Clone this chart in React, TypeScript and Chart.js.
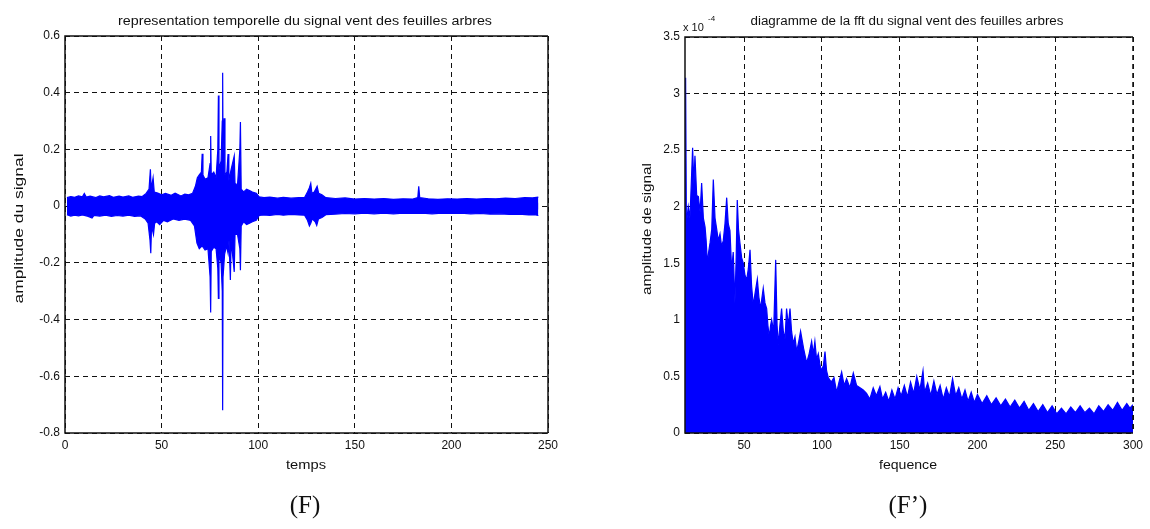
import React, { useEffect, useRef } from "react";
import { Chart, registerables } from "chart.js";

Chart.register(...registerables);

// ---------- Left chart (F): time signal envelope ----------
const timeTicks = [0, 50, 100, 150, 200, 250];
const ampTicks = [-0.8, -0.6, -0.4, -0.2, 0, 0.2, 0.4, 0.6];

const upperT = [1, 3, 5, 7, 9, 10, 11, 13, 16, 18, 20, 23, 25, 28, 30, 33, 35, 38, 40, 42, 43.5, 44.2, 44.6, 45.6, 46.2, 48, 50, 52, 55, 57, 60, 62, 64, 66, 67.5, 68.5, 69.5, 70.6, 71, 71.4, 72.5, 74, 75.1, 75.4, 75.7, 77, 78.2, 79.1, 79.4, 79.7, 80.8, 81.4, 81.6, 81.8, 82.4, 82.8, 83.8, 84.4, 84.8, 86, 87.6, 88, 89.3, 90.5, 90.8, 91.2, 92.5, 94, 95.5, 97, 99, 100.5, 103, 106, 110, 113, 117, 121, 124, 125.5, 126.5, 127.2, 127.8, 129, 130.5, 131.3, 133, 135, 140, 145, 150, 155, 160, 165, 170, 175, 180, 182.6, 183.1, 183.6, 188, 193, 198, 203, 208, 213, 218, 223, 228, 233, 238, 242, 245];
const upperV = [0.03, 0.034, 0.031, 0.036, 0.033, 0.045, 0.032, 0.035, 0.03, 0.036, 0.033, 0.037, 0.031, 0.035, 0.032, 0.036, 0.031, 0.035, 0.034, 0.045, 0.06, 0.13, 0.06, 0.1, 0.05, 0.046, 0.04, 0.045, 0.038, 0.046, 0.036, 0.042, 0.04, 0.045, 0.07, 0.1, 0.11, 0.12, 0.185, 0.11, 0.095, 0.1, 0.15, 0.247, 0.11, 0.12, 0.1, 0.2, 0.39, 0.13, 0.16, 0.3, 0.47, 0.2, 0.31, 0.11, 0.12, 0.184, 0.09, 0.13, 0.177, 0.08, 0.075, 0.2, 0.297, 0.06, 0.05, 0.06, 0.055, 0.05, 0.045, 0.033, 0.03, 0.032, 0.028, 0.031, 0.028, 0.03, 0.03, 0.05, 0.065, 0.08, 0.045, 0.05, 0.07, 0.045, 0.04, 0.03, 0.027, 0.029, 0.025, 0.027, 0.025, 0.027, 0.024, 0.026, 0.025, 0.03, 0.07, 0.03, 0.026, 0.024, 0.026, 0.025, 0.027, 0.025, 0.027, 0.026, 0.028, 0.027, 0.03, 0.029, 0.032];

const lowerT = [1, 3, 5, 7, 9, 12, 14, 15, 18, 21, 24, 27, 30, 33, 36, 39, 41.5, 43, 44, 44.4, 44.8, 45.8, 46.4, 47.5, 49, 51, 53, 56, 59, 62, 65, 67, 68.3, 69.5, 71, 72.5, 74, 75.1, 75.4, 75.7, 77, 78.2, 79.1, 79.4, 79.7, 80.8, 81.4, 81.6, 81.8, 82.6, 83.6, 84.4, 84.9, 85.6, 86, 87.6, 88, 89.3, 90.5, 90.8, 91.2, 92.5, 94, 95.5, 97, 99, 100.5, 103, 106, 110, 113, 117, 121, 124, 125.5, 126.5, 127.2, 128, 129.5, 130.3, 131.2, 133, 135, 140, 145, 150, 155, 160, 165, 170, 175, 180, 185, 190, 195, 200, 205, 210, 215, 220, 225, 230, 235, 240, 243, 245];
const lowerV = [-0.03, -0.035, -0.032, -0.034, -0.031, -0.036, -0.042, -0.033, -0.035, -0.032, -0.036, -0.033, -0.035, -0.032, -0.036, -0.034, -0.045, -0.06, -0.12, -0.166, -0.07, -0.1, -0.06, -0.055, -0.065, -0.05, -0.055, -0.045, -0.05, -0.046, -0.05, -0.07, -0.13, -0.15, -0.14, -0.155, -0.15, -0.25, -0.375, -0.16, -0.145, -0.15, -0.22, -0.325, -0.17, -0.2, -0.3, -0.72, -0.25, -0.17, -0.14, -0.166, -0.12, -0.26, -0.12, -0.232, -0.1, -0.1, -0.15, -0.226, -0.07, -0.055, -0.065, -0.06, -0.055, -0.05, -0.033, -0.031, -0.033, -0.029, -0.032, -0.029, -0.031, -0.032, -0.05, -0.07, -0.06, -0.045, -0.055, -0.068, -0.045, -0.04, -0.03, -0.028, -0.026, -0.027, -0.025, -0.027, -0.025, -0.027, -0.025, -0.026, -0.025, -0.027, -0.025, -0.026, -0.025, -0.027, -0.026, -0.028, -0.027, -0.029, -0.028, -0.031, -0.03, -0.033];

// ---------- Right chart (F'): FFT magnitude (x 10^-4) ----------
const freqTicks = [50, 100, 150, 200, 250, 300];
const fftTicks = [0, 0.5, 1, 1.5, 2, 2.5, 3, 3.5];

const freqF = [12.0, 12.4, 12.9, 14.1, 15.2, 16.9, 17.7, 18.4, 19.5, 20.6, 21.7, 22.7, 23.8, 24.9, 25.6, 26.4, 27.2, 28.1, 29.2, 30.2, 31.3, 32.4, 33.4, 34.5, 35.5, 36.6, 37.7, 38.8, 39.8, 40.9, 42.0, 43.0, 44.1, 44.9, 45.6, 46.4, 47.3, 48.4, 49.5, 50.5, 51.6, 52.7, 53.8, 54.8, 55.9, 57.2, 58.5, 59.5, 60.6, 61.5, 62.3, 63.4, 64.5, 65.3, 66.2, 67.0, 67.7, 69, 70.3, 71.2, 72.0, 73, 74.1, 75.2, 76.3, 77.3, 78.4, 79.5, 80.5, 81.6, 82.7, 83.8, 85, 86.3, 88.2, 90.2, 91.8, 93.4, 94.5, 95.5, 96.6, 97.7, 98.8, 99.8, 101, 102, 103, 104.1, 106, 107.8, 109.5, 111, 112.7, 114.3, 115.9, 118, 120.2, 122.3, 124.5, 126.6, 128.7, 130.8, 133, 135, 137.3, 139, 141, 143, 145, 147, 149, 151, 153, 155, 157, 159, 161, 163, 165, 166, 168, 170, 172, 174, 176, 178, 180, 182, 184, 186, 188, 190, 192, 194, 196, 198, 200, 203, 206, 209, 212, 215, 218, 221, 224, 227, 230, 233, 236, 239, 242, 245, 248, 251, 254, 257, 260, 263, 266, 269, 272, 275, 278, 281, 284, 287, 290, 293, 296, 298, 300];
const fftV = [1.82, 3.14, 1.85, 2.0, 1.9, 2.52, 2.2, 2.45, 2.1, 2.09, 1.95, 2.21, 1.9, 1.82, 1.7, 1.5, 1.6, 1.68, 1.8, 2.24, 1.9, 1.8, 1.7, 1.76, 1.65, 1.7, 1.85, 2.08, 1.85, 1.79, 1.44, 1.6, 1.15, 1.55, 2.06, 1.8, 1.68, 1.55, 1.5, 1.4, 1.35, 1.45, 1.62, 1.3, 1.13, 1.25, 1.36, 1.2, 1.1, 1.2, 1.28, 1.15, 1.1, 0.95, 0.85, 0.95, 1.0, 0.9, 1.53, 0.95, 0.78, 0.95, 1.1, 0.9, 0.83, 1.1, 0.95, 1.1, 0.9, 0.79, 0.85, 0.72, 0.8, 0.9, 0.75, 0.62, 0.7, 0.81, 0.7, 0.81, 0.65, 0.7, 0.6, 0.55, 0.6, 0.72, 0.55, 0.49, 0.45, 0.49, 0.36, 0.45, 0.54, 0.42, 0.48, 0.4, 0.53, 0.42, 0.4, 0.38, 0.35, 0.3, 0.4, 0.33, 0.41, 0.3, 0.36, 0.28, 0.38, 0.3, 0.4, 0.33, 0.42, 0.32, 0.45, 0.35, 0.5, 0.38, 0.55, 0.36, 0.44, 0.33, 0.46, 0.34, 0.42, 0.3, 0.4, 0.32, 0.48, 0.33, 0.4, 0.3, 0.38, 0.28, 0.36, 0.27, 0.34, 0.26, 0.33, 0.25, 0.31, 0.24, 0.3, 0.23, 0.29, 0.22, 0.28, 0.2, 0.26, 0.19, 0.25, 0.18, 0.24, 0.17, 0.22, 0.17, 0.23, 0.18, 0.24, 0.18, 0.22, 0.17, 0.24, 0.19, 0.25, 0.2, 0.27, 0.2, 0.26, 0.22, 0.25];

const BLUE = "#0000ff";
const FONT = "'Liberation Sans', Arial, sans-serif";

function drawText(
  ctx: CanvasRenderingContext2D,
  text: string,
  x: number,
  y: number,
  size: number,
  width?: number,
  rotate?: boolean
) {
  ctx.save();
  ctx.font = `${size}px ${FONT}`;
  ctx.translate(x, y);
  if (rotate) ctx.rotate(-Math.PI / 2);
  if (width) {
    const m = ctx.measureText(text).width;
    ctx.scale(width / m, 1);
  }
  ctx.textAlign = "center";
  ctx.textBaseline = "middle";
  ctx.fillStyle = "#111";
  ctx.fillText(text, 0, 0);
  ctx.restore();
}

type Deco = {
  title: string;
  titleX: number;
  titleW: number;
  xLabel: string;
  xLabelX: number;
  xLabelW: number;
  yLabel: string;
  yLabelX: number;
  yLabelW: number;
  rightDashed: boolean;
  exponent: boolean;
};

function makeDecoPlugin(d: Deco) {
  return {
    id: "matlabDeco",
    afterDraw(chart: any) {
      const ctx: CanvasRenderingContext2D = chart.ctx;
      const a = chart.chartArea;
      ctx.save();
      ctx.strokeStyle = "#111";
      ctx.lineWidth = 1.5;
      ctx.setLineDash([]);
      ctx.beginPath();
      ctx.moveTo(a.right, a.top);
      ctx.lineTo(a.left, a.top);
      ctx.lineTo(a.left, a.bottom);
      ctx.lineTo(a.right, a.bottom);
      ctx.stroke();
      if (d.rightDashed) ctx.setLineDash([5, 4]);
      ctx.beginPath();
      ctx.moveTo(a.right, a.top);
      ctx.lineTo(a.right, a.bottom);
      ctx.stroke();
      ctx.restore();

      drawText(ctx, d.title, d.titleX, 22, 12, d.titleW);
      drawText(ctx, d.xLabel, d.xLabelX, 466, 12, d.xLabelW);
      drawText(ctx, d.yLabel, d.yLabelX, (a.top + a.bottom) / 2 - 6, 12, d.yLabelW, true);

      if (d.exponent) {
        ctx.save();
        ctx.fillStyle = "#111";
        ctx.textAlign = "left";
        ctx.textBaseline = "alphabetic";
        ctx.font = `11px ${FONT}`;
        ctx.fillText("x 10", a.left - 2, 31);
        ctx.font = `8px ${FONT}`;
        ctx.fillText("-4", a.left + 23, 21);
        ctx.restore();
      }
    },
  };
}

function fixedTicks(list: number[]) {
  return (scale: any) => {
    scale.ticks = list.map((v) => ({ value: v }));
  };
}

const gridOpts = {
  color: "#111",
  lineWidth: 1,
  drawTicks: false,
};

const tickFont = { family: FONT, size: 12 };

function buildLeft(canvas: HTMLCanvasElement) {
  const upper = upperT.map((t, i) => ({ x: t, y: upperV[i] }));
  const lower = lowerT.map((t, i) => ({ x: t, y: lowerV[i] }));
  return new Chart(canvas, {
    type: "line",
    data: {
      datasets: [
        { data: upper, borderColor: BLUE, backgroundColor: BLUE, borderWidth: 1.2, pointRadius: 0, fill: { value: -0.012 }, tension: 0 },
        { data: lower, borderColor: BLUE, backgroundColor: BLUE, borderWidth: 1.2, pointRadius: 0, fill: { value: 0.012 }, tension: 0 },
      ],
    },
    options: {
      responsive: false,
      animation: false,
      events: [],
      layout: { padding: { left: 0, top: 36, right: 27, bottom: 56 } },
      plugins: { legend: { display: false }, tooltip: { enabled: false }, title: { display: false } },
      scales: {
        x: {
          type: "linear",
          min: 0,
          max: 250,
          afterBuildTicks: fixedTicks(timeTicks),
          afterFit: (s: any) => { s.height = 40; },
          grid: gridOpts,
          border: { display: false, dash: [5, 4] },
          ticks: { color: "#111", padding: 5, font: tickFont, maxRotation: 0, autoSkip: false },
        },
        y: {
          type: "linear",
          min: -0.8,
          max: 0.6,
          afterBuildTicks: fixedTicks(ampTicks),
          afterFit: (s: any) => { s.width = 65; },
          grid: gridOpts,
          border: { display: false, dash: [5, 4] },
          ticks: {
            color: "#111",
            padding: 5,
            font: tickFont,
            autoSkip: false,
            callback: (v: any) => String(Number(Number(v).toFixed(1))),
          },
        },
      },
    },
    plugins: [
      makeDecoPlugin({
        title: "representation temporelle du signal vent des feuilles arbres",
        titleX: 305,
        titleW: 374,
        xLabel: "temps",
        xLabelX: 306,
        xLabelW: 40,
        yLabel: "amplitude du signal",
        yLabelX: 20,
        yLabelW: 150,
        rightDashed: false,
        exponent: false,
      }),
    ],
  } as any);
}

function buildRight(canvas: HTMLCanvasElement) {
  const spec = freqF.map((f, i) => ({ x: f, y: fftV[i] }));
  return new Chart(canvas, {
    type: "line",
    data: {
      datasets: [
        { data: spec, borderColor: BLUE, backgroundColor: BLUE, borderWidth: 1.2, pointRadius: 0, fill: "origin", tension: 0 },
      ],
    },
    options: {
      responsive: false,
      animation: false,
      events: [],
      layout: { padding: { left: 0, top: 37, right: 17, bottom: 56 } },
      plugins: { legend: { display: false }, tooltip: { enabled: false }, title: { display: false } },
      scales: {
        x: {
          type: "linear",
          min: 12,
          max: 300,
          afterBuildTicks: fixedTicks(freqTicks),
          afterFit: (s: any) => { s.height = 40; },
          grid: gridOpts,
          border: { display: false, dash: [5, 4] },
          ticks: { color: "#111", padding: 5, font: tickFont, maxRotation: 0, autoSkip: false },
        },
        y: {
          type: "linear",
          min: 0,
          max: 3.5,
          afterBuildTicks: fixedTicks(fftTicks),
          afterFit: (s: any) => { s.width = 110; },
          grid: gridOpts,
          border: { display: false, dash: [5, 4] },
          ticks: {
            color: "#111",
            padding: 5,
            font: tickFont,
            autoSkip: false,
            callback: (v: any) => String(Number(Number(v).toFixed(1))),
          },
        },
      },
    },
    plugins: [
      makeDecoPlugin({
        title: "diagramme de la fft du signal vent des feuilles arbres",
        titleX: 332,
        titleW: 313,
        xLabel: "fequence",
        xLabelX: 333,
        xLabelW: 58,
        yLabel: "amplitude de signal",
        yLabelX: 73,
        yLabelW: 132,
        rightDashed: true,
        exponent: true,
      }),
    ],
  } as any);
}

export default function App() {
  const leftRef = useRef<HTMLCanvasElement | null>(null);
  const rightRef = useRef<HTMLCanvasElement | null>(null);

  useEffect(() => {
    document.body.style.margin = "0";
    document.body.style.background = "#fff";
    const c1 = leftRef.current ? buildLeft(leftRef.current) : null;
    const c2 = rightRef.current ? buildRight(rightRef.current) : null;
    return () => {
      c1?.destroy();
      c2?.destroy();
    };
  }, []);

  const caption: React.CSSProperties = {
    position: "absolute",
    top: 490,
    width: 120,
    textAlign: "center",
    fontFamily: "'Liberation Serif', 'Times New Roman', serif",
    fontSize: 25,
    lineHeight: "30px",
    color: "#111",
  };

  return (
    <div style={{ position: "relative", width: 1150, height: 529, background: "#fff", overflow: "hidden" }}>
      <canvas ref={leftRef} width={575} height={529} style={{ position: "absolute", left: 0, top: 0, width: 575, height: 529 }} />
      <canvas ref={rightRef} width={575} height={529} style={{ position: "absolute", left: 575, top: 0, width: 575, height: 529 }} />
      <div style={{ ...caption, left: 305 - 60 }}>(F)</div>
      <div style={{ ...caption, left: 908 - 60 }}>(F’)</div>
    </div>
  );
}
